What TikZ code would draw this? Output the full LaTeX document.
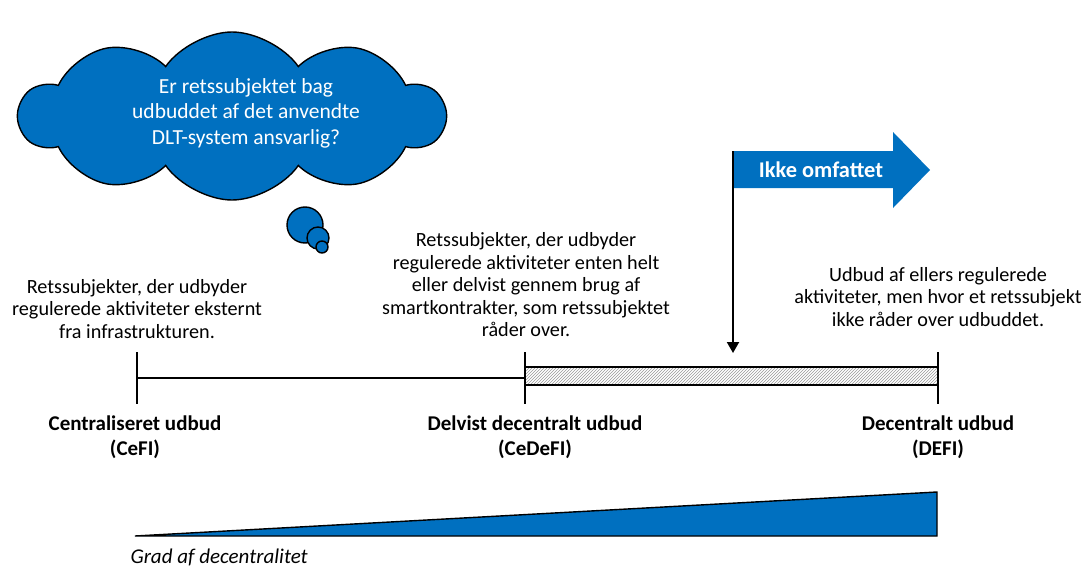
\documentclass[tikz,border=0pt]{standalone}
\usepackage{fontspec}
\setmainfont{Carlito}
\usetikzlibrary{shapes.symbols,patterns,arrows.meta,calc}
\definecolor{ppblue}{RGB}{0,112,192}
\tikzset{
  body/.style={align=center,font=\fontsize{20.2}{22.5}\selectfont},
  pointlabel/.style={align=center,font=\bfseries\fontsize{21}{25}\selectfont},
  tickmark/.style={line width=2.5pt},
  outline/.style={draw=black,line width=1.4pt}
}
\begin{document}
\begin{tikzpicture}[x=1pt,y=-1pt]
    \useasboundingbox (0,0) rectangle (1086,567);

    % Thought bubbles
    \draw[outline,fill=ppblue] (305,225) circle (18);
    \node[cloud, cloud puffs=10, cloud puff arc=110, aspect=2.4, outline, fill=ppblue,
          minimum width=425pt, minimum height=168pt] (cloud) at (232,116) {};
    \draw[outline,fill=ppblue] (318,238) circle (11);
    \draw[outline,fill=ppblue] (322,247) circle (6);
    \node[align=center, text=white, font=\fontsize{21.5}{25.5}\selectfont] (question) at (246,113)
        {Er retssubjektet bag\\udbuddet af det anvendte\\DLT-system ansvarlig?};

    % Timeline
    \coordinate (cefi) at (137,378);
    \coordinate (cedefi) at (525,378);
    \coordinate (defi) at (938,378);
    \draw[line width=2pt] (cefi) -- (cedefi);
    \draw[line width=1.4pt, pattern=north east lines, pattern color=gray!80]
        ($(cedefi)+(0,-11)$) rectangle ($(defi)+(0,7)$);
    \foreach \p in {cefi,cedefi,defi}
        \draw[tickmark] ($(\p)+(0,-26)$) -- ($(\p)+(0,26)$);

    % Descriptions
    \node[body] (cefitext) at (137,309) {Retssubjekter, der udbyder\\regulerede aktiviteter eksternt\\fra infrastrukturen.};
    \node[body] (cedefitext) at (526,285) {Retssubjekter, der udbyder\\regulerede aktiviteter enten helt\\eller delvist gennem brug af\\smartkontrakter, som retssubjektet\\råder over.};
    \node[body] (defitext) at (938,297) {Udbud af ellers regulerede\\aktiviteter, men hvor et retssubjekt\\ikke råder over udbuddet.};

    % Labels
    \node[pointlabel] (cefilabel) at (135,437) {Centraliseret udbud\\(CeFI)};
    \node[pointlabel] (cedefilabel) at (535,437) {Delvist decentralt udbud\\(CeDeFI)};
    \node[pointlabel] (defilabel) at (938,437) {Decentralt udbud\\(DEFI)};

    % Ikke omfattet
    \fill[ppblue] (733,151) -- (893,151) -- (893,132) -- (930,170) -- (893,208) -- (893,188) -- (733,188) -- cycle;
    \node[pointlabel, text=white, font=\bfseries\fontsize{22.4}{25}\selectfont] (ikke) at (821,170) {Ikke omfattet};
    \coordinate (flagcorner) at (733,151);
    \coordinate (marker) at (733,353);
    \draw[line width=2pt, -{Triangle[length=11pt,width=12pt]}] (flagcorner) -- (marker);

    % Degree wedge
    \draw[outline, fill=ppblue] (135,536) -- (937,492) -- (937,536) -- cycle;
    \node[body, font=\itshape\fontsize{21}{22.5}\selectfont, anchor=west] (grad) at (127,557) {Grad af decentralitet};
\end{tikzpicture}
\end{document}
